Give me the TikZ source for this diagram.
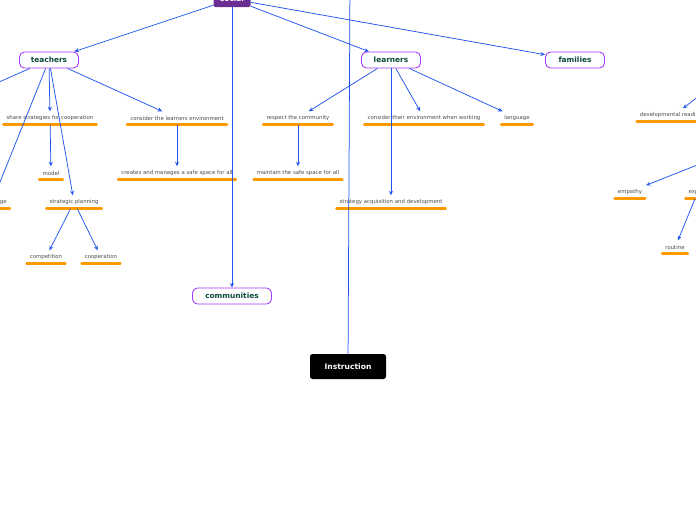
\documentclass[tikz,border=0pt]{standalone}
\usepackage{fontspec}
\setmainfont{DejaVu Sans}
\usetikzlibrary{arrows.meta}
\definecolor{edgeblue}{HTML}{2255EE}
\definecolor{topicborder}{HTML}{A839F5}
\definecolor{topictext}{HTML}{0B4A3C}
\definecolor{socialfill}{HTML}{6A2D91}
\definecolor{ulorange}{HTML}{FF9900}
\definecolor{leafgray}{HTML}{4D4D4D}
\tikzset{
  arr/.style={draw=edgeblue, line width=0.75pt, -{Stealth[length=4.5pt,width=4pt]}},
  plainline/.style={draw=edgeblue, line width=0.75pt},
  topic/.style={draw=topicborder, line width=0.9pt, fill=white, rounded corners=5pt,
    minimum width=59pt, minimum height=16pt, inner sep=1pt,
    font=\fontsize{7.4}{8}\selectfont\bfseries, text=topictext},
  rootbox/.style={fill=socialfill, rounded corners=2pt, minimum width=37pt, minimum height=16pt,
    inner sep=1pt, font=\fontsize{7.4}{8}\selectfont\bfseries, text=white},
  blackbox/.style={fill=black, rounded corners=2.5pt, minimum width=76pt, minimum height=25pt,
    inner sep=1pt, font=\fontsize{7.6}{9}\selectfont\bfseries, text=white},
  leaf/.style={font=\fontsize{5.4}{6}\selectfont, text=leafgray, minimum height=13pt,
    inner xsep=4pt, inner ysep=0pt},
  uline/.style={draw=ulorange, line width=2.8pt, line cap=round},
}
\begin{document}
\begin{tikzpicture}[x=1pt, y=-1pt]
\useasboundingbox (0,0) rectangle (696,520);
\fill[white] (0,0) rectangle (696,520);

% main topics
\node[rootbox] (social) at (232,-1) {social};
\node[topic] (teachers) at (49,60) {teachers};
\node[topic] (learners) at (391,60) {learners};
\node[topic] (families) at (575,60) {families};
\node[topic, minimum width=79pt] (communities) at (232,296) {communities};
\node[blackbox] (instr) at (348,366.5) {Instruction};

% leaves
\node[leaf] (share) at (50,118) {share strategies for cooperation};
\node[leaf] (clenv) at (177,118) {consider the learners environment};
\node[leaf] (respect) at (298,118) {respect the community};
\node[leaf] (ctenv) at (424,118) {consider their environment when working};
\node[leaf] (lang) at (517,118) {language};
\node[leaf] (devready) at (674,115) {developmental readiness};
\node[leaf] (model) at (51,173) {model};
\node[leaf] (creates) at (177,173) {creates and manages a safe space for all};
\node[leaf] (maintain) at (298,173) {maintain the safe space for all};
\node[leaf] (stacq) at (391,202) {strategy acquisition and development};
\node[leaf] (knowl) at (-8,202) {knowledge};
\node[leaf] (stplan) at (74,202) {strategic planning};
\node[leaf] (compet) at (46,257) {competition};
\node[leaf] (coop) at (101,257) {cooperation};
\node[leaf] (empathy) at (630,192) {empathy};
\node[leaf] (expect) at (706,192) {expectations};
\node[leaf] (routine) at (675,247) {routine};

\foreach \n in {share,clenv,respect,ctenv,lang,devready,model,creates,maintain,stacq,knowl,stplan,compet,coop,empathy,expect,routine}
  \draw[uline] ([xshift=1pt]\n.south west) -- ([xshift=-1pt]\n.south east);

% free ends outside the frame
\coordinate (offleft) at (-10,86);
\coordinate (offtop) at (350,-20);
\coordinate (offright1) at (712,86);
\coordinate (offright2) at (720,156);

% connectors
\draw[arr] (social) -- (teachers);
\draw[arr] (social) -- (communities);
\draw[arr] (social) -- (learners);
\draw[arr] (social) -- (families);

\draw[plainline] (teachers) -- (offleft);
\draw[arr] (teachers) -- (share);
\draw[arr] (teachers) -- (knowl);
\draw[arr] (teachers) -- (stplan);
\draw[arr] (teachers) -- (clenv);
\draw[arr] (share) -- (model);
\draw[arr] (clenv) -- (creates);
\draw[arr] (stplan) -- (compet);
\draw[arr] (stplan) -- (coop);

\draw[arr] (learners) -- (respect);
\draw[arr] (learners) -- (stacq);
\draw[arr] (learners) -- (ctenv);
\draw[arr] (learners) -- (lang);
\draw[arr] (respect) -- (maintain);

\draw[plainline] (instr) -- (offtop);

\draw[arr] (offright1) -- ([xshift=9pt]devready.north);
\draw[arr] (offright2) -- ([xshift=16pt]empathy.north);
\draw[arr] ([xshift=-11pt]expect.south) -- ([xshift=3pt]routine.north);
\end{tikzpicture}
\end{document}
